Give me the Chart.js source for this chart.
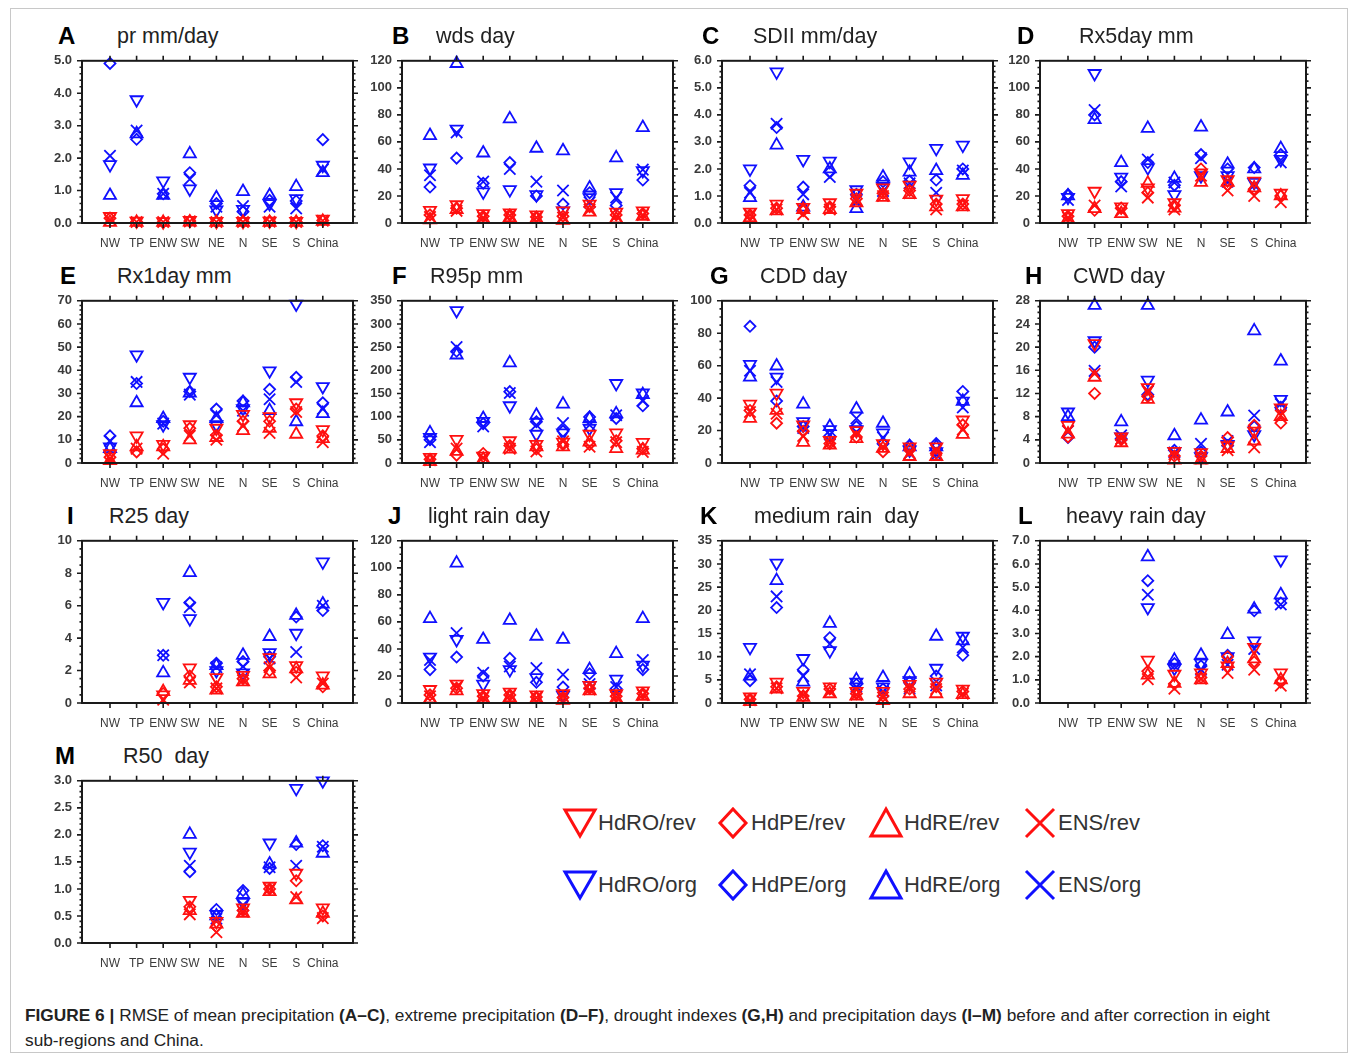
<!DOCTYPE html>
<html>
<head>
<meta charset="utf-8">
<script src="https://cdn.jsdelivr.net/npm/chart.js@4.4.1/dist/chart.umd.min.js"></script>
<style>
  body { margin: 0; background: #fff; font-family: "Liberation Sans", Arial, sans-serif; }
  #fig { position: relative; width: 1357px; height: 1056px; overflow: hidden; }
  #frame { position: absolute; left: 10px; top: 8px; width: 1336px; height: 1043px; border: 1px solid #c8c8c8; }
  #fig canvas { position: absolute; }
  .lab { position: absolute; font-weight: bold; font-size: 24px; line-height: 26px; color: #000; }
  .ttl { position: absolute; font-size: 21.5px; line-height: 26px; color: #222; white-space: pre; }
  .leg { position: absolute; height: 36px; display: flex; align-items: center; font-size: 22px; color: #333; }
  .leg svg { position: absolute; left: 0; top: 0; }
  .leg span { position: absolute; left: 36px; white-space: nowrap; }
  #caption { position: absolute; left: 25px; top: 1003px; font-size: 17.3px; line-height: 25px; color: #222; white-space: nowrap; }
</style>
</head>
<body>
<div id="fig">
  <div id="frame"></div>
  <div id="caption"><b>FIGURE 6 |</b> RMSE of mean precipitation <b>(A–C)</b>, extreme precipitation <b>(D–F)</b>, drought indexes <b>(G,H)</b> and precipitation days <b>(I–M)</b> before and after correction in eight<br>sub-regions and China.</div>
</div>
<script>
const regions = ['NW', 'TP', 'ENW', 'SW', 'NE', 'N', 'SE', 'S', 'China'];
const models = ['HdRO', 'HdPE', 'HdRE', 'ENS'];

// each block: [HdRO, HdPE, HdRE, ENS], values per region
const prOrg = [
  [1.8, 3.8, 1.3, 1.05, 0.4, 0.42, 0.6, 0.75, 1.78],
  [4.92, 2.58, 0.9, 1.55, 0.6, 0.35, 0.7, 0.68, 2.57],
  [0.85, 2.75, 0.85, 2.13, 0.78, 0.97, 0.85, 1.12, 1.55],
  [2.07, 2.85, 0.9, 1.35, 0.5, 0.52, 0.5, 0.45, 1.65]
];
const prRev = [
  [0.2, 0.06, 0.04, 0.08, 0.05, 0.05, 0.06, 0.05, 0.12],
  [0.15, 0.04, 0.03, 0.06, 0.04, 0.04, 0.05, 0.04, 0.08],
  [0.02, 0.02, 0.02, 0.03, 0.02, 0.02, 0.02, 0.02, 0.05],
  [0.1, 0.03, 0.03, 0.05, 0.03, 0.03, 0.04, 0.03, 0.07]
];
const wdsOrg = [
  [40.7, 69.4, 23, 24.7, 21, 9, 18.8, 22.4, 38.8],
  [26.6, 48, 29.4, 44.7, 20, 14, 22.4, 13, 31.8],
  [64.7, 118, 51.8, 77, 55.3, 53.4, 25.9, 48.2, 70.6],
  [35.3, 67, 30.6, 40, 30.6, 24, 15.3, 18.8, 39.5]
];
const wdsRev = [
  [9.4, 13.5, 7, 7.5, 6, 9, 14, 8, 9],
  [6, 11, 5, 6, 4.5, 5, 12, 6, 7],
  [2.4, 10, 3, 4, 3, 2, 8, 3, 5],
  [4.5, 9, 4, 5.5, 4, 4, 10, 5, 6]
];
const sdiiOrg = [
  [2.0, 5.59, 2.35, 2.29, 1.23, 1.35, 2.26, 2.76, 2.88],
  [1.38, 3.53, 1.33, 1.88, 1.06, 1.53, 1.55, 1.59, 2.0],
  [0.94, 2.88, 0.59, 2.0, 0.53, 1.7, 1.88, 1.94, 1.76],
  [1.12, 3.67, 1.06, 1.7, 0.82, 1.18, 1.47, 1.12, 1.94]
];
const sdiiRev = [
  [0.4, 0.7, 0.58, 0.75, 1.1, 1.3, 1.4, 0.88, 0.9],
  [0.3, 0.55, 0.45, 0.6, 0.9, 1.1, 1.2, 0.7, 0.7],
  [0.2, 0.45, 0.5, 0.5, 0.75, 0.95, 1.05, 0.6, 0.6],
  [0.3, 0.5, 0.32, 0.5, 0.85, 1.0, 1.1, 0.5, 0.65]
];
const rx5Org = [
  [19, 110.6, 34, 41, 21, 35, 35, 30, 47],
  [21, 80, 30.6, 44.7, 28, 50.6, 40, 41, 50.6],
  [20, 76.5, 44.7, 70, 33, 71, 43.5, 40, 55],
  [17, 83.5, 27, 47, 30, 48, 30.6, 28, 44.7]
];
const rx5Rev = [
  [7, 23.5, 12, 25.9, 15, 37, 32, 31, 22],
  [5, 9.4, 11, 22.4, 13, 40, 28, 25, 20],
  [3, 10.6, 7, 29.4, 11, 30, 30, 26, 20],
  [4, 13, 9, 18.8, 10, 35, 24, 20, 15.3]
];
const rx1Org = [
  [7, 46.7, 16.5, 37, 16.5, 23.5, 39.8, 68.6, 33],
  [11.7, 34.3, 18, 30.9, 23.3, 26.8, 31.8, 37, 26],
  [6.2, 26, 19.2, 30.2, 19.2, 26, 22.6, 17.8, 21.3],
  [9.6, 35, 17, 29.5, 20.6, 22.6, 27.5, 35, 23.3]
];
const rx1Rev = [
  [4, 11.7, 8, 16.5, 15, 21, 20, 26, 14.4],
  [2.5, 4.8, 6, 15, 12, 18, 18, 23.3, 11.7],
  [1, 7, 7, 10, 11, 14, 15, 12.4, 10.5],
  [2, 6.2, 4, 11.7, 10, 16, 13, 22, 9]
];
const r95Org = [
  [55, 329, 90, 123.5, 62, 65, 75, 171.6, 151],
  [50, 241, 85, 154, 89, 69, 99.5, 96, 123.5],
  [65, 233, 96, 216, 103, 127, 96, 106, 147.5],
  [45, 250, 79, 151, 82, 86, 82, 103, 134]
];
const r95Rev = [
  [12, 51, 15, 48, 40, 45, 62, 65, 44.6],
  [8, 17, 20.6, 37.7, 30, 40, 40, 48, 31],
  [3, 25, 8, 30, 35, 35, 45, 31, 28],
  [6, 31, 12, 31, 25, 47, 35, 45, 24]
];
const cddOrg = [
  [60.8, 53, 25.5, 20.6, 20.6, 18.6, 8, 7, 38.2],
  [84.3, 38.2, 22.5, 16.7, 22.5, 11.8, 11, 12, 44.1],
  [53, 59.8, 36.3, 22.5, 33.3, 24.5, 10, 10, 38],
  [56.9, 50, 21.6, 17.6, 27.5, 15.7, 6, 5, 34.3]
];
const cddRev = [
  [36.3, 43.1, 23.5, 14, 20, 12, 10, 10, 26.5],
  [32.4, 24.5, 19.6, 12, 16, 7, 8, 6, 23.5],
  [27.5, 32.4, 12.7, 11, 15, 9, 4, 4, 17.6],
  [31.4, 30.4, 16.7, 12.5, 18, 10, 6, 8, 20.6]
];
const cwdOrg = [
  [8.8, 21.1, 4.5, 14.3, 2.0, 1.1, 3.2, 4.9, 11],
  [4.4, 20, 4.2, 11.8, 2.2, 1.9, 3.0, 6.3, 9.6],
  [8, 27.2, 7.1, 27.2, 4.7, 7.4, 8.8, 22.8, 17.6],
  [5.5, 15.9, 4.8, 12.4, 1.8, 3.3, 3.8, 8.2, 10.2]
];
const cwdRev = [
  [6.5, 20.6, 4.5, 13, 2.0, 1.8, 3.0, 5.5, 9.5],
  [4.5, 12, 4, 11.5, 1.2, 1.2, 4.4, 6.5, 6.9],
  [5, 14.8, 3.5, 11, 0.5, 0.5, 2.5, 3.8, 8],
  [5.5, 15.4, 4.2, 12.5, 1.5, 0.8, 2.2, 2.7, 8.2]
];
const r25Org = [
  [null, null, 6.2, 5.2, 2.0, 1.86, 3.1, 4.3, 8.7],
  [null, null, 2.94, 6.18, 2.45, 2.55, 2.85, 5.3, 5.7],
  [null, null, 1.86, 8.04, 2.3, 2.94, 4.1, 5.4, 6.1],
  [null, null, 2.94, 5.9, 2.2, 2.25, 2.75, 3.14, 6.0]
];
const r25Rev = [
  [null, null, 0.5, 2.16, 1.57, 1.7, 2.8, 2.3, 1.67],
  [null, null, 0.59, 1.67, 1.0, 1.5, 2.0, 1.9, 1.0],
  [null, null, 0.7, 1.4, 0.8, 1.3, 1.8, 2.1, 1.1],
  [null, null, 0.2, 1.27, 0.9, 1.4, 2.2, 1.57, 1.2]
];
const lightOrg = [
  [34, 47, 14, 24.7, 18.8, 5.9, 13, 17.6, 28],
  [24.7, 34, 20, 33, 15.3, 11.8, 21.6, 10.6, 24.7],
  [62.4, 103.5, 47, 61.2, 49.4, 47, 24.7, 36.5, 62.4],
  [31.8, 51.8, 22.4, 27, 25.9, 21, 14.1, 11.8, 31.8]
];
const lightRev = [
  [10, 14, 7, 8, 6, 7, 13, 7, 9],
  [6, 11, 5, 6, 4.5, 4, 11, 5, 7],
  [3, 9, 3, 4, 3, 2, 9, 3, 5],
  [5, 12, 4, 5.5, 4, 5, 10, 4.5, 6]
];
const mediumOrg = [
  [12, 30.2, 9.6, 11.3, 4.5, 3.5, 4.8, 7.5, 14.4],
  [4.8, 20.6, 7.2, 14.1, 4, 3, 4.5, 5.8, 10.3],
  [5.8, 26.4, 4.5, 17.2, 5, 5.5, 6.2, 14.4, 13.4],
  [6.2, 23, 5.8, 12.7, 3.5, 2.5, 3.1, 3.8, 12]
];
const mediumRev = [
  [1.3, 4.5, 2.5, 3.5, 2.5, 2.5, 4, 4.5, 3],
  [0.8, 3.5, 1.5, 3, 2, 1.5, 3, 3.5, 2.5],
  [0.3, 3, 1.2, 2, 1.5, 0.5, 2, 2, 1.8],
  [0.6, 3.2, 1.8, 2.5, 1.8, 1.2, 3.5, 3, 2]
];
const heavyOrg = [
  [null, null, null, 4.12, 1.5, 1.72, 2.0, 2.68, 6.18],
  [null, null, null, 5.28, 1.7, 1.6, 2.06, 3.98, 4.32],
  [null, null, null, 6.31, 1.85, 2.06, 2.95, 4.05, 4.67],
  [null, null, null, 4.67, 1.6, 1.44, 1.65, 2.33, 4.25]
];
const heavyRev = [
  [null, null, null, 1.85, 1.24, 1.3, 1.6, 2.4, 1.3],
  [null, null, null, 1.37, 0.82, 1.1, 2.0, 1.78, 0.9],
  [null, null, null, 1.2, 0.85, 1.0, 1.7, 1.9, 1.0],
  [null, null, null, 1.03, 0.62, 1.05, 1.3, 1.44, 0.75]
];
const r50Org = [
  [null, null, null, 1.68, 0.53, 0.75, 1.85, 2.86, 3.0],
  [null, null, null, 1.32, 0.62, 0.97, 1.38, 1.82, 1.8],
  [null, null, null, 2.01, 0.5, 0.9, 1.46, 1.85, 1.66],
  [null, null, null, 1.43, 0.45, 0.7, 1.4, 1.43, 1.78]
];
const r50Rev = [
  [null, null, null, 0.79, 0.4, 0.65, 1.05, 1.29, 0.65],
  [null, null, null, 0.67, 0.3, 0.6, 1.0, 1.15, 0.5],
  [null, null, null, 0.6, 0.35, 0.55, 0.95, 0.8, 0.55],
  [null, null, null, 0.53, 0.2, 0.58, 1.0, 0.85, 0.46]
];

const panels = [
  { id: 'A', title: 'pr mm/day',         org: prOrg,     rev: prRev,     max: 5,   step: 1,   dec: 1, minor: 5 },
  { id: 'B', title: 'wds day',           org: wdsOrg,    rev: wdsRev,    max: 120, step: 20,  dec: 0, minor: 4 },
  { id: 'C', title: 'SDII mm/day',       org: sdiiOrg,   rev: sdiiRev,   max: 6,   step: 1,   dec: 1, minor: 5 },
  { id: 'D', title: 'Rx5day mm',         org: rx5Org,    rev: rx5Rev,    max: 120, step: 20,  dec: 0, minor: 4 },
  { id: 'E', title: 'Rx1day mm',         org: rx1Org,    rev: rx1Rev,    max: 70,  step: 10,  dec: 0, minor: 5 },
  { id: 'F', title: 'R95p mm',           org: r95Org,    rev: r95Rev,    max: 350, step: 50,  dec: 0, minor: 5 },
  { id: 'G', title: 'CDD day',           org: cddOrg,    rev: cddRev,    max: 100, step: 20,  dec: 0, minor: 4 },
  { id: 'H', title: 'CWD day',           org: cwdOrg,    rev: cwdRev,    max: 28,  step: 4,   dec: 0, minor: 4 },
  { id: 'I', title: 'R25 day',           org: r25Org,    rev: r25Rev,    max: 10,  step: 2,   dec: 0, minor: 4 },
  { id: 'J', title: 'light rain day',    org: lightOrg,  rev: lightRev,  max: 120, step: 20,  dec: 0, minor: 4 },
  { id: 'K', title: 'medium rain  day',  org: mediumOrg, rev: mediumRev, max: 35,  step: 5,   dec: 0, minor: 5 },
  { id: 'L', title: 'heavy rain day',    org: heavyOrg,  rev: heavyRev,  max: 7,   step: 1,   dec: 1, minor: 5 },
  { id: 'M', title: 'R50  day',          org: r50Org,    rev: r50Rev,    max: 3,   step: 0.5, dec: 1, minor: 5 }
];

// page placement of each plot box, label and title
const colLeft = [82, 402, 722, 1040];
const colWidth = [271, 271, 271, 266];
const rowTop = [53, 293, 533, 773];
const labelX = [58, 392, 702, 1017, 60, 392, 710, 1025, 67, 388, 700, 1018, 55];
const titleX = [117, 436, 753, 1079, 117, 430, 760, 1073, 109, 428, 754, 1066, 123];
const PLOT_H = 170, PAD_L = 50, PAD_T = 10, PAD_R = 15, PAD_B = 32;
const CAT_W = 26.6;

const RED = '#ff1010', BLUE = '#1010ff';
const markers = [
  { style: 'triangle', rotation: 180, radius: 7 },
  { style: 'rectRot',  rotation: 0,   radius: 5.5 },
  { style: 'triangle', rotation: 0,   radius: 7 },
  { style: 'crossRot', rotation: 0,   radius: 8 }
];

// frame box with outward category ticks and major/minor value ticks
const framePlugin = {
  id: 'frame',
  afterDraw(chart, args, opts) {
    const { ctx, chartArea: a, scales: { x, y } } = chart;
    ctx.save();
    ctx.strokeStyle = '#1a1a1a';
    ctx.lineWidth = 2;
    ctx.strokeRect(a.left, a.top, a.right - a.left, a.bottom - a.top);
    ctx.lineWidth = 1.6;
    ctx.beginPath();
    regions.forEach((_, i) => {
      const px = x.getPixelForValue(i);
      ctx.moveTo(px, a.top); ctx.lineTo(px, a.top - 5);
      ctx.moveTo(px, a.bottom); ctx.lineTo(px, a.bottom + 5);
    });
    const nSub = Math.round(opts.max / opts.step) * opts.minor;
    for (let k = 0; k <= nSub; k++) {
      const py = y.getPixelForValue(k * opts.step / opts.minor);
      const len = k % opts.minor === 0 ? 5 : 2.5;
      ctx.moveTo(a.left, py); ctx.lineTo(a.left - len, py);
      ctx.moveTo(a.right, py); ctx.lineTo(a.right + len, py);
    }
    ctx.stroke();
    ctx.restore();
  }
};

function series(vals, color, m) {
  return {
    data: vals.map((v, i) => ({ x: i, y: v })).filter(p => p.y !== null),
    pointStyle: m.style,
    rotation: m.rotation,
    radius: m.radius,
    borderColor: color,
    backgroundColor: 'rgba(0,0,0,0)',
    borderWidth: 1.8,
    showLine: false,
    clip: false
  };
}

const fig = document.getElementById('fig');

panels.forEach((p, idx) => {
  const col = idx % 4, row = Math.floor(idx / 4);
  const left = colLeft[col], top = rowTop[row], w = colWidth[col];

  const lab = document.createElement('div');
  lab.className = 'lab';
  lab.textContent = p.id;
  lab.style.left = labelX[idx] + 'px';
  lab.style.top = (top - 30) + 'px';
  fig.appendChild(lab);

  const ttl = document.createElement('div');
  ttl.className = 'ttl';
  ttl.textContent = p.title;
  ttl.style.left = titleX[idx] + 'px';
  ttl.style.top = (top - 30) + 'px';
  fig.appendChild(ttl);

  const cv = document.createElement('canvas');
  cv.width = PAD_L + w + PAD_R;
  cv.height = PAD_T + PLOT_H + PAD_B;
  cv.style.left = (left - PAD_L) + 'px';
  cv.style.top = (top - PAD_T) + 'px';
  fig.appendChild(cv);

  // red (corrected) series listed first so they are painted on top
  const datasets = [
    ...p.rev.map((vals, k) => series(vals, RED, markers[k])),
    ...p.org.map((vals, k) => series(vals, BLUE, markers[k]))
  ];

  const xMin = -28 / CAT_W;
  new Chart(cv, {
    type: 'scatter',
    data: { datasets },
    options: {
      responsive: false,
      animation: false,
      devicePixelRatio: 1,
      layout: { padding: { left: 0, top: PAD_T, right: PAD_R, bottom: 0 }, autoPadding: false },
      plugins: { legend: { display: false }, tooltip: { enabled: false }, frame: { max: p.max, step: p.step, minor: p.minor } },
      scales: {
        x: {
          type: 'linear',
          min: xMin,
          max: xMin + w / CAT_W,
          afterBuildTicks: s => { s.ticks = regions.map((_, i) => ({ value: i })); },
          afterFit: s => { s.height = PAD_B; },
          grid: { display: false, drawTicks: false },
          border: { display: false },
          ticks: {
            autoSkip: false, maxRotation: 0, padding: 13, color: '#3a3a3a',
            font: { family: '"Liberation Sans", Arial, sans-serif', size: 12 },
            callback: v => regions[v]
          }
        },
        y: {
          min: 0,
          max: p.max,
          afterFit: s => { s.width = PAD_L; },
          grid: { display: false, drawTicks: false },
          border: { display: false },
          ticks: {
            stepSize: p.step, padding: 10, color: '#3a3a3a',
            font: { family: '"Liberation Sans", Arial, sans-serif', size: 13, weight: 'bold' },
            callback: v => v.toFixed(p.dec)
          }
        }
      }
    },
    plugins: [framePlugin]
  });
});

// legend: corrected runs on the first row, original runs on the second
const legX = [562, 715, 868, 1022];
const legY = [805, 867];
const shapes = [
  '<polygon points="3,5 33,5 18,31" />',
  '<polygon points="18,4 31,18 18,32 5,18" />',
  '<polygon points="18,4 33,31 3,31" />',
  '<path d="M4,4 L32,32 M32,4 L4,32" />'
];
[['rev', RED], ['org', BLUE]].forEach(([run, color], r) => {
  models.forEach((m, k) => {
    const d = document.createElement('div');
    d.className = 'leg';
    d.style.left = legX[k] + 'px';
    d.style.top = legY[r] + 'px';
    d.innerHTML = '<svg width="36" height="36" fill="none" stroke="' + color + '" stroke-width="3">' + shapes[k] + '</svg>' +
      '<span>' + m + '/' + run + '</span>';
    fig.appendChild(d);
  });
});
</script>
</body>
</html>
